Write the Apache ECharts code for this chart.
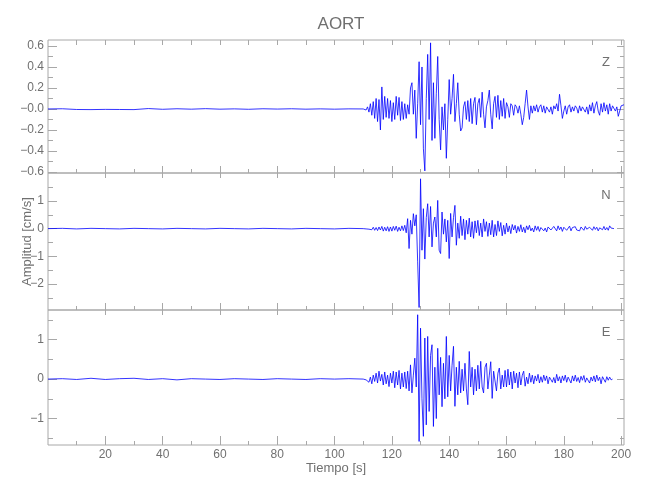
<!DOCTYPE html>
<html><head><meta charset="utf-8">
<script src="https://cdn.jsdelivr.net/npm/echarts@6/dist/echarts.min.js"></script>
<style>html,body{margin:0;padding:0;background:#fff}#c{width:650px;height:500px}</style>
</head><body><div id="c"></div>
<script>
const FONT = '"Liberation Sans", Arial, sans-serif';
const titleText = 'AORT';
const xName = 'Tiempo [s]';
const yName = 'Amplitud [cm/s]';
const componentNames = ['Z', 'N', 'E'];

const xMin = 0, xMax = 201;
const xMajorTicks = [20, 40, 60, 80, 100, 120, 140, 160, 180, 200];
const xMinorTicks = [10, 30, 50, 70, 90, 110, 130, 150, 170, 190];

// Y ranges and ticks per component
const zRange = [-0.61, 0.657];
const zMajorTicks = [-0.6, -0.4, -0.2, 0, 0.2, 0.4, 0.6];
const zTickLabels = ['\u22120.6', '\u22120.4', '\u22120.2', '\u22120.0', '0.2', '0.4', '0.6'];
const zMinorTicks = [-0.5, -0.3, -0.1, 0.1, 0.3, 0.5];

const nRange = [-2.94, 2.01];
const nMajorTicks = [-2, -1, 0, 1];
const nTickLabels = ['\u22122', '\u22121', '0', '1'];
const nMinorTicks = [-2.5, -1.5, -0.5, 0.5, 1.5];

const eRange = [-1.67, 1.75];
const eMajorTicks = [-1, 0, 1];
const eTickLabels = ['\u22121', '0', '1'];
const eMinorTicks = [-1.5, -0.5, 0.5, 1.5];

// Sampling of the traces
const quietStart = 0, quietStep = 5;      // 0 .. 105 s
const activeStart = 110, activeStep = 0.5; // 110 s .. end

const zQuiet = [0, 0.002, -0.005, -0.006, -0.004, -0.005, -0.006, 0.004, -0.003, 0.002, -0.002,
  0.003, -0.002, 0.001, -0.003, 0.002, -0.001, 0.002, -0.002, 0.001, -0.002, 0.001];
const zActive = [
  0, 0.005, -0.01, 0.02, -0.03, 0.05, -0.06, 0.07, -0.09, 0.10,
  -0.12, 0.09, -0.20, 0.21, -0.10, 0.12, -0.08, 0.10, -0.09, 0.08,
  -0.12, 0.06, -0.10, 0.12, -0.06, 0.11, -0.11, 0.07, -0.10, 0.05,
  -0.09, 0.04, -0.05, 0.20, 0.25, -0.05, 0.18, -0.28, 0.05, 0.45,
  -0.15, 0.40, -0.38, -0.59, 0.10, 0.52, -0.10, 0.63, -0.30, 0.25,
  -0.28, 0.15, 0.50, -0.10, -0.39, 0.02, -0.20, 0.05, -0.47, -0.10,
  0.28, -0.05, 0.10, 0.33, -0.12, 0.05, 0.25, -0.05, -0.21, -0.18,
  0.02, 0.07, -0.10, 0.08, -0.12, 0.10, -0.14, 0.05, 0.11, -0.15,
  0.05, 0.10, -0.08, 0.16, -0.05, -0.18, 0.02, 0.08, 0.18, -0.05,
  -0.19, 0.05, 0.12, -0.08, 0.13, -0.10, 0.08, -0.07, 0.10, -0.09,
  0.06, 0.02, -0.08, 0.05, 0.03, -0.06, 0.04, 0.02, -0.04, 0.03,
  -0.05, -0.15, -0.08, 0.05, 0.18, 0.02, -0.10, 0.03, -0.04, 0.03,
  -0.02, 0.04, -0.03, 0.02, 0.04, -0.03, 0.03, -0.04, 0.02, 0.03,
  -0.03, 0.02, -0.05, 0.03, 0.00, 0.05, -0.02, 0.14, 0.03, -0.09,
  -0.02, 0.03, -0.05, 0.02, 0.04, -0.03, 0.02, -0.02, 0.03, 0.01,
  -0.04, 0.03, -0.02, 0.02, 0.03, -0.03, 0.02, -0.05, 0.04, -0.02,
  0.06, -0.04, 0.03, 0.07, -0.02, -0.06, 0.05, -0.03, 0.06, -0.02,
  0.04, -0.05, 0.05, -0.02, 0.03, 0.04, -0.02, 0.02, -0.07, -0.02,
  0.03, 0.04, 0.04];

const nQuiet = [0, 0.01, -0.01, 0.01, 0, -0.01, 0.01, 0, -0.01, 0.01, 0,
  -0.01, 0.01, 0, -0.01, 0.01, 0, -0.01, 0.01, 0, -0.01, 0.01];
const nActive = [
  0, 0.01, -0.01, 0.01, -0.02, 0.03, -0.04, 0.05, -0.06, 0.04,
  -0.07, 0.06, -0.05, 0.08, -0.09, 0.05, -0.08, 0.07, -0.10, 0.06,
  -0.09, 0.08, -0.06, 0.09, -0.10, 0.05, -0.08, 0.10, -0.07, 0.12,
  -0.15, 0.36, -0.72, 0.30, -0.20, 0.54, 0.10, 0.50, -1.20, -2.85,
  1.80, -0.78, 0.72, -1.10, 0.40, 0.90, -0.30, 0.80, -0.66, 0.20,
  0.42, -0.30, 1.02, -0.78, -0.90, 0.60, -0.20, 0.35, -0.48, 0.30,
  -1.08, 0.55, -0.30, 0.40, 0.84, -0.60, 0.20, -0.35, 0.45, -0.25,
  0.35, -0.40, 0.30, -0.20, 0.38, -0.30, 0.25, -0.35, 0.28, -0.15,
  0.30, -0.25, 0.20, -0.30, 0.35, -0.10, 0.25, -0.28, 0.20, -0.22,
  0.30, -0.30, 0.15, -0.25, 0.28, -0.10, 0.22, -0.26, 0.12, -0.20,
  0.20, -0.12, 0.10, -0.18, 0.15, -0.05, 0.12, -0.16, 0.08, -0.10,
  0.14, -0.12, 0.05, -0.15, 0.10, -0.04, 0.12, -0.08, 0.02, -0.12,
  0.10, -0.06, 0.08, -0.10, 0.04, 0.10, -0.08, 0.02, -0.12, 0.06,
  0.10, -0.05, -0.10, 0.08, 0.03, -0.08, 0.10, -0.04, 0.06, -0.10,
  0.05, 0.08, -0.06, -0.02, 0.09, -0.08, 0.04, -0.03, 0.07, -0.05,
  0.02, -0.08, 0.06, 0.04, -0.06, 0.08, -0.02, -0.07, 0.05, 0.03,
  -0.06, 0.07, -0.03, 0.05, -0.08, 0.03, 0.06, -0.04, 0.08, -0.05,
  0.04, -0.06, 0.10, 0.02, -0.05, 0.0];

const eQuiet = [0, 0.01, -0.01, 0.02, -0.01, 0.01, 0.02, -0.01, 0.01, -0.02, 0.01,
  0, -0.01, 0.01, 0, -0.01, 0.01, 0, -0.01, 0.01, 0, 0.01];
const eActive = [
  0, 0.01, -0.02, 0.03, -0.08, 0.05, -0.12, 0.10, -0.06, 0.15,
  -0.10, 0.20, -0.05, 0.12, -0.15, 0.18, -0.12, 0.10, -0.19, 0.15,
  -0.10, 0.20, -0.22, 0.18, -0.15, 0.22, -0.25, 0.15, -0.20, 0.18,
  -0.24, 0.20, -0.30, 0.36, -0.35, 0.10, 0.53, -0.20, 1.63, -1.58,
  1.29, -0.50, -1.45, 1.04, -1.16, 1.08, -0.82, 0.60, 0.87, -1.20,
  0.30, -1.00, 0.78, -0.40, 0.55, -0.70, 0.40, -0.50, 1.08, -0.45,
  0.60, -0.30, 0.35, 0.83, -0.69, 0.30, -0.40, 0.45, -0.35, 0.25,
  -0.30, 0.40, -0.25, -0.65, 0.70, -0.20, 0.30, -0.40, 0.25, -0.30,
  0.35, -0.25, 0.45, -0.20, -0.35, 0.30, 0.40, -0.25, 0.10, 0.44,
  -0.49, 0.20, 0.25, -0.30, 0.15, 0.28, -0.25, 0.10, -0.20, 0.22,
  -0.20, 0.25, -0.15, 0.18, -0.25, 0.20, -0.10, 0.15, -0.22, 0.18,
  -0.15, 0.10, 0.20, -0.18, 0.05, -0.12, 0.15, -0.08, 0.10, -0.12,
  0.08, -0.05, 0.12, -0.10, 0.06, -0.08, 0.10, -0.04, 0.08, -0.12,
  0.05, 0.10, -0.08, 0.04, -0.10, 0.12, -0.05, 0.06, -0.10, 0.08,
  -0.04, 0.10, -0.08, 0.05, 0.03, -0.10, 0.08, -0.05, 0.10, -0.06,
  0.04, -0.09, 0.07, -0.03, 0.09, -0.08, 0.03, 0.07, -0.10, 0.05,
  -0.05, 0.08, -0.07, 0.10, -0.04, 0.05, -0.12, 0.06, 0.03, -0.08,
  0.06, -0.03, 0.05, -0.02, 0.0];

// ---------- building the chart ----------
function buildTrace(quiet, active) {
  const d = [];
  quiet.forEach((v, i) => d.push([quietStart + i * quietStep, v]));
  active.forEach((v, i) => d.push([activeStart + i * activeStep, v]));
  return d;
}

const TEXT = '#707070', LINE = '#a8a8a8';
const panels = [
  { name: componentNames[0], range: zRange, major: zMajorTicks, labels: zTickLabels, minor: zMinorTicks, data: buildTrace(zQuiet, zActive), top: 40, height: 133, topMinor: true },
  { name: componentNames[1], range: nRange, major: nMajorTicks, labels: nTickLabels, minor: nMinorTicks, data: buildTrace(nQuiet, nActive), top: 173, height: 137, topMinor: false },
  { name: componentNames[2], range: eRange, major: eMajorTicks, labels: eTickLabels, minor: eMinorTicks, data: buildTrace(eQuiet, eActive), top: 310, height: 135, topMinor: false }
];

const grids = [], xAxes = [], yAxes = [], series = [], graphics = [];
const GL = 48, GR = 26;

function tickAxis(base, values, len, extra) {
  return Object.assign({
    axisLine: { show: false, onZero: false },
    splitLine: { show: false },
    axisTick: { show: true, inside: true, length: len, customValues: values, lineStyle: { color: LINE, width: 1 } },
    axisLabel: { show: false },
  }, base, extra || {});
}

panels.forEach((p, i) => {
  grids.push({ left: GL, right: GR, top: p.top, height: p.height, show: true, borderColor: LINE, borderWidth: 1, backgroundColor: 'transparent' });
  const isLast = i === panels.length - 1;
  const xb = { type: 'value', gridIndex: i, min: xMin, max: xMax };
  const xMainIdx = xAxes.length;
  xAxes.push(tickAxis(Object.assign({ position: 'bottom' }, xb), xMajorTicks, isLast ? 9 : 7, isLast ? {
    axisLabel: { show: true, customValues: xMajorTicks, margin: 4, color: TEXT, fontFamily: FONT, fontSize: 12 },
    name: xName, nameLocation: 'middle', nameGap: 17, nameMoveOverlap: false,
    nameTextStyle: { color: TEXT, fontFamily: FONT, fontSize: 13 }
  } : {}));
  xAxes.push(tickAxis(Object.assign({ position: 'bottom' }, xb), xMinorTicks, 4));
  xAxes.push(tickAxis(Object.assign({ position: 'top' }, xb), xMajorTicks, 5));
  if (p.topMinor) xAxes.push(tickAxis(Object.assign({ position: 'top' }, xb), xMinorTicks, 5));

  const yb = { type: 'value', gridIndex: i, min: p.range[0], max: p.range[1] };
  const yMainIdx = yAxes.length;
  const labs = p.labels, maj = p.major;
  yAxes.push(tickAxis(Object.assign({ position: 'left' }, yb), maj, 9, Object.assign({
    axisLabel: {
      show: true, customValues: maj, margin: 4, color: TEXT, fontFamily: FONT, fontSize: 12,
      formatter: v => { const k = maj.findIndex(m => Math.abs(m - v) < 1e-9); return k >= 0 ? labs[k] : ''; }
    }
  }, i === 1 ? {
    name: yName, nameLocation: 'middle', nameGap: 14, nameRotate: 90, nameMoveOverlap: false,
    nameTextStyle: { color: TEXT, fontFamily: FONT, fontSize: 13 }
  } : {})));
  yAxes.push(tickAxis(Object.assign({ position: 'left' }, yb), p.minor, 5));
  yAxes.push(tickAxis(Object.assign({ position: 'right' }, yb), maj, 7));
  yAxes.push(tickAxis(Object.assign({ position: 'right' }, yb), p.minor, 4));

  series.push({
    type: 'line', name: p.name, xAxisIndex: xMainIdx, yAxisIndex: yMainIdx,
    data: p.data, showSymbol: false, symbol: 'none', animation: false,
    lineStyle: { color: '#0000ff', width: 0.8 }, clip: true
  });
  graphics.push({
    type: 'text', x: 606, y: p.top + 22,
    style: { text: p.name, fill: TEXT, font: '13px ' + FONT, align: 'center', verticalAlign: 'middle' }
  });
});

const chart = echarts.init(document.getElementById('c'), null, { renderer: 'canvas' });
chart.setOption({
  backgroundColor: '#ffffff',
  animation: false,
  title: { text: titleText, left: 336, top: 11, textAlign: 'center',
    textStyle: { color: TEXT, fontFamily: FONT, fontSize: 17, fontWeight: 'normal' } },
  grid: grids,
  xAxis: xAxes,
  yAxis: yAxes,
  series: series,
  graphic: graphics
});
</script>
</body></html>
